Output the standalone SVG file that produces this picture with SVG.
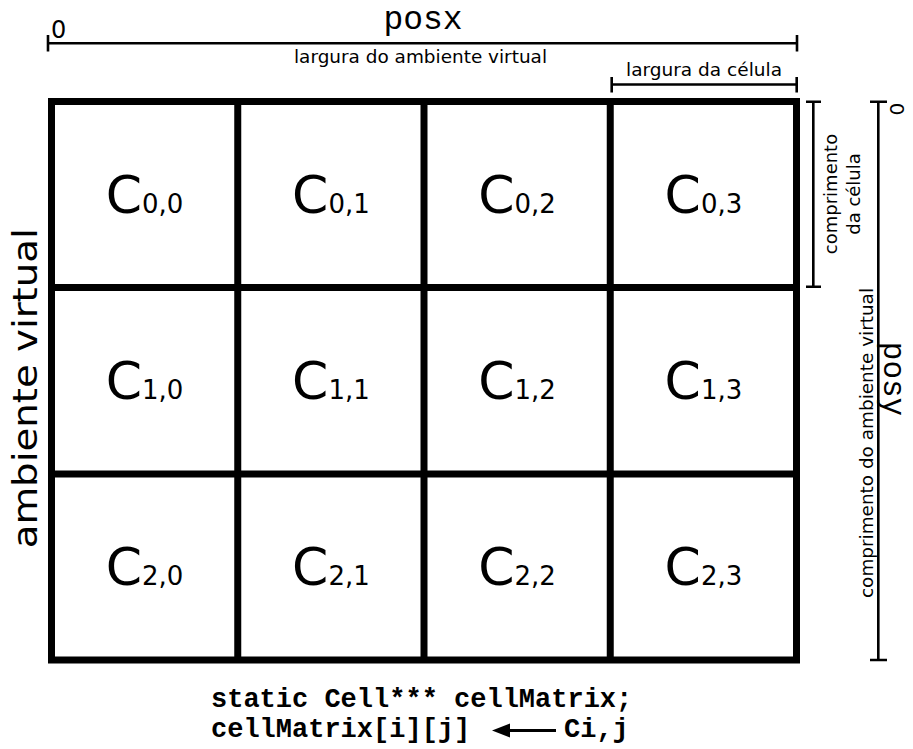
<svg xmlns="http://www.w3.org/2000/svg" width="913" height="749" viewBox="0 0 913 749">
<style>
.grid{fill:none;stroke:#000;stroke-width:7}
.dim{fill:none;stroke:#000;stroke-width:2.6}
.lbl{font-family:"DejaVu Sans",sans-serif;font-size:18px;fill:#000}
.cell{font-family:"DejaVu Sans",sans-serif;font-size:52px;fill:#000;text-anchor:middle}
.sub{font-size:26px}
.mono{font-family:"Liberation Mono","Courier New",monospace;fill:#000}
.code{font-family:"Liberation Mono","Courier New",monospace;font-weight:bold;font-size:27px;fill:#000}
</style>
<rect width="913" height="749" fill="#fff"/>
<g id="grid">
<rect class="grid" x="51.5" y="101.5" width="745" height="558.5"/>
<path class="grid" d="M237.75 101.5V660M424 101.5V660M610.25 101.5V660M51.5 287.5H796.5M51.5 474H796.5"/>
</g>
<g id="c00"><text class="cell" x="144.6" y="212.5">C<tspan class="sub">0,0</tspan></text></g>
<g id="c01"><text class="cell" x="330.9" y="212.5">C<tspan class="sub">0,1</tspan></text></g>
<g id="c02"><text class="cell" x="517.1" y="212.5">C<tspan class="sub">0,2</tspan></text></g>
<g id="c03"><text class="cell" x="703.4" y="212.5">C<tspan class="sub">0,3</tspan></text></g>
<g id="c10"><text class="cell" x="144.6" y="399">C<tspan class="sub">1,0</tspan></text></g>
<g id="c11"><text class="cell" x="330.9" y="399">C<tspan class="sub">1,1</tspan></text></g>
<g id="c12"><text class="cell" x="517.1" y="399">C<tspan class="sub">1,2</tspan></text></g>
<g id="c13"><text class="cell" x="703.4" y="399">C<tspan class="sub">1,3</tspan></text></g>
<g id="c20"><text class="cell" x="144.6" y="585">C<tspan class="sub">2,0</tspan></text></g>
<g id="c21"><text class="cell" x="330.9" y="585">C<tspan class="sub">2,1</tspan></text></g>
<g id="c22"><text class="cell" x="517.1" y="585">C<tspan class="sub">2,2</tspan></text></g>
<g id="c23"><text class="cell" x="703.4" y="585">C<tspan class="sub">2,3</tspan></text></g>
<g id="dimensions">
<path class="dim" d="M48 43.3H797M48 35V51.5M797 35V51.5"/>
<path class="dim" d="M611.7 84.5H796.7M611.7 77V92.5M796.7 77V92.5"/>
<path class="dim" d="M813.3 101.7V286.7M806 101.7H821M806 286.7H821"/>
<path class="dim" d="M878.3 101.7V660M870 101.7H887M870 660H887"/>
</g>
<g id="labels">
<text class="mono" x="423" y="29.3" font-size="33" text-anchor="middle">posx</text>
<text x="51" y="38.3" font-family="DejaVu Sans, sans-serif" font-size="24">0</text>
<text class="lbl" x="420.5" y="63.3" text-anchor="middle" textLength="253" lengthAdjust="spacingAndGlyphs">largura do ambiente virtual</text>
<text class="lbl" x="704" y="76" text-anchor="middle" textLength="156" lengthAdjust="spacingAndGlyphs">largura da célula</text>
<text class="lbl" transform="translate(836.5,194) rotate(-90)" text-anchor="middle"><tspan x="0" y="0">comprimento</tspan><tspan x="0" y="23">da célula</tspan></text>
<text class="lbl" transform="translate(873,443) rotate(-90)" text-anchor="middle" textLength="310" lengthAdjust="spacingAndGlyphs">comprimento do ambiente virtual</text>
<text transform="translate(37,388.3) rotate(-90)" text-anchor="middle" font-family="DejaVu Sans, sans-serif" font-size="34" textLength="320" lengthAdjust="spacingAndGlyphs">ambiente virtual</text>
<text class="mono" transform="translate(884,379) rotate(90)" font-size="31" text-anchor="middle">posy</text>
<text transform="translate(890,109) rotate(90)" font-family="DejaVu Sans, sans-serif" font-size="20" text-anchor="middle">0</text>
</g>
<g id="code">
<text class="code" x="211" y="707">static Cell*** cellMatrix;</text>
<text class="code" x="211" y="737">cellMatrix[i][j]</text>
<text class="code" x="564" y="737">Ci,j</text>
</g>
<g id="connectors">
<path d="M556 730.5H505" fill="none" stroke="#000" stroke-width="3"/>
<polygon points="492,730.5 510,723.5 510,737.5" fill="#000"/>
</g>
</svg>
